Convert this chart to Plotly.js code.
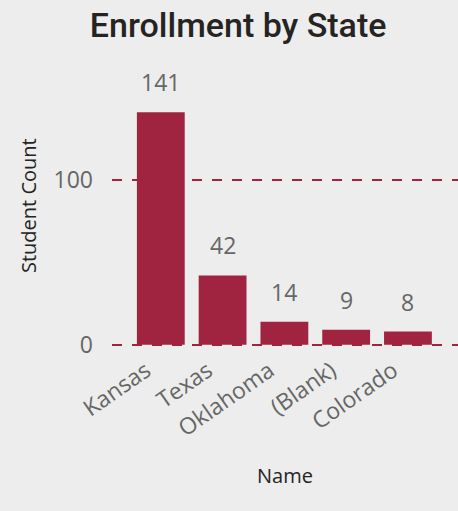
<!DOCTYPE html>
<html>
<head>
<meta charset="utf-8">
<script src="https://cdn.plot.ly/plotly-3.0.1.min.js"></script>
<style>
html,body{margin:0;padding:0;background:#ecedec;}
#chart{width:458px;height:511px;}
</style>
</head>
<body>
<div id="chart"></div>
<script>
const categories = ["Kansas", "Texas", "Oklahoma", "(Blank)", "Colorado"];
const studentCounts = [141, 42, 14, 9, 8];
const yTickValues = [0, 100];

const barColor = "#a0243f";
const labelColor = "#666666";
const darkText = "#252423";
const font = "Open Sans, Noto Sans, sans-serif";

const trace = {
  type: "bar",
  x: categories,
  y: studentCounts,
  marker: {color: barColor},
  hoverinfo: "none"
};

const annotations = categories.map((c, i) => ({
  x: c,
  y: studentCounts[i],
  xref: "x",
  yref: "y",
  text: String(studentCounts[i]),
  showarrow: false,
  yanchor: "bottom",
  yshift: 12,
  font: {family: font, size: 23, color: labelColor}
}));

annotations.push({
  text: "Student Count",
  xref: "paper",
  yref: "paper",
  x: (28 - 112) / 346,
  y: (349 - 207) / 267,
  xanchor: "center",
  yanchor: "middle",
  textangle: -90,
  showarrow: false,
  font: {family: font, size: 20, color: darkText}
});

const layout = {
  width: 458,
  height: 511,
  paper_bgcolor: "#ecedec",
  plot_bgcolor: "#ecedec",
  margin: {l: 112, r: 0, t: 81, b: 163},
  bargap: 0.226,
  showlegend: false,
  title: {
    text: "Enrollment by State",
    x: 0.52,
    xanchor: "center",
    y: 1 - 25 / 511,
    yanchor: "middle",
    yref: "container",
    font: {family: "Roboto, sans-serif", size: 34, weight: 500, color: darkText}
  },
  xaxis: {
    type: "category",
    range: [-0.79, 4.81],
    tickangle: -35,
    tickfont: {family: font, size: 23, color: labelColor},
    ticklabelshift: -15,
    ticklabelstandoff: 4,
    showgrid: false,
    zeroline: false,
    showline: false,
    ticks: "",
    title: {
      text: "Name",
      standoff: 26,
      font: {family: font, size: 20, color: darkText}
    }
  },
  yaxis: {
    range: [-2, 160],
    tickvals: yTickValues,
    ticktext: yTickValues.map(String),
    tickfont: {family: font, size: 23, color: labelColor},
    ticklabelstandoff: 18,
    showgrid: true,
    gridcolor: barColor,
    gridwidth: 2,
    griddash: "10px,10px",
    zeroline: false,
    showline: false,
    ticks: ""
  },
  annotations: annotations
};

Plotly.newPlot("chart", [trace], layout, {staticPlot: true, displayModeBar: false});
</script>
</body>
</html>
